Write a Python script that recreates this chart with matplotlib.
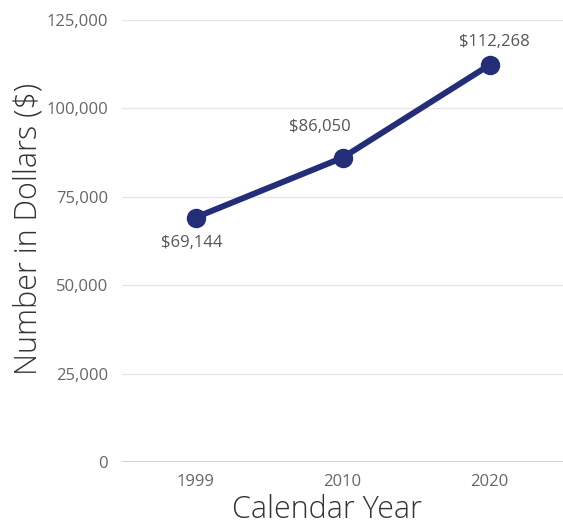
import matplotlib
matplotlib.use("Agg")
import matplotlib.pyplot as plt
from matplotlib.ticker import FuncFormatter

years = ["1999", "2010", "2020"]
values = [69144, 86050, 112268]
labels = ["$69,144", "$86,050", "$112,268"]
yticks = [0, 25000, 50000, 75000, 100000, 125000]

plt.rcParams['font.family'] = ['Open Sans', 'DejaVu Sans']

fig = plt.figure(figsize=(5.63, 5.25), dpi=100)
ax = fig.add_axes([0.2167, 0.12, 0.7833, 0.8419])
x = list(range(len(years)))
color = "#232d78"
ax.plot(x, values, color=color, lw=4.3, marker="o", ms=13, solid_capstyle="round", zorder=3)

offsets = [(-4, -25), (-23, 31), (5, 23)]
for xi, v, lab, off in zip(x, values, labels, offsets):
    ax.annotate(lab, (xi, v), xytext=off, textcoords="offset pixels",
                ha="center", va="center", fontsize=12, color="#555555", fontweight="normal")

ax.set_xlim(-0.5, 2.5)
ax.set_ylim(0, 125000)
ax.set_yticks(yticks)
ax.yaxis.set_major_formatter(FuncFormatter(lambda v, p: f"{int(v):,}"))
ax.set_xticks(x)
ax.set_xticklabels(years)
for s in ax.spines.values():
    s.set_visible(False)
ax.grid(axis="y", color="#e6e6e6", lw=1)
ax.axhline(0, color="#cccccc", lw=1.2, zorder=2)
ax.tick_params(length=0, labelsize=12, labelcolor="#666666", pad=9)
ax.tick_params(axis="y", pad=10)
ax.set_xlabel("Calendar Year", fontsize=22, color="#333333", fontweight="light")
ax.set_ylabel("Number in Dollars ($)", fontsize=22, color="#333333", fontweight="light")
ax.xaxis.set_label_coords(0.465, -0.073)
ax.yaxis.set_label_coords(-0.175, 0.527)
ax.set_axisbelow(True)
fig.savefig("out.png", dpi=100)
